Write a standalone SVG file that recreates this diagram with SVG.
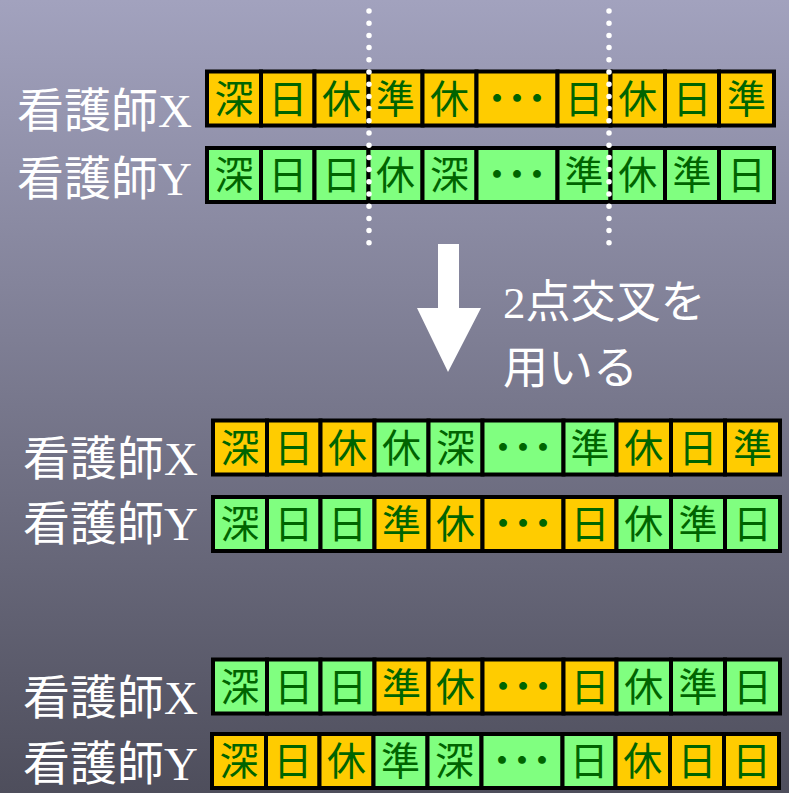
<svg xmlns="http://www.w3.org/2000/svg" width="789" height="793" viewBox="0 0 789 793">
<defs>
<linearGradient id="bg" x1="0" y1="0" x2="0" y2="1">
<stop offset="0" stop-color="#A2A2BE"/>
<stop offset="1" stop-color="#4E4E5C"/>
</linearGradient>
</defs>
<style>
.o{fill:#FFCC00;stroke:#000;stroke-width:4}
.g{fill:#80FF80;stroke:#000;stroke-width:4}
.c{font-family:"Noto Sans CJK JP","Noto Sans",sans-serif;font-size:39px;fill:#006400;text-anchor:middle}
.d{font-family:"Noto Sans CJK JP","Noto Sans",sans-serif;font-size:40px;font-weight:bold;fill:#006400;text-anchor:middle}
.lab{font-family:"Liberation Serif","Noto Sans CJK JP",serif;font-size:47px;fill:#fff}
.note{font-family:"Liberation Serif","Noto Sans CJK JP",serif;font-size:45px;fill:#fff}
.dot{stroke:#fff;stroke-width:5.5;stroke-linecap:round;stroke-dasharray:0 12.2}
</style>
<rect x="0" y="0" width="789" height="793" fill="url(#bg)"/>

<g id="label-top-x"><text class="lab" x="17" y="127">看護師X</text></g>
<g id="label-top-y"><text class="lab" x="17" y="195">看護師Y</text></g>
<g id="label-mid-x"><text class="lab" x="23" y="475">看護師X</text></g>
<g id="label-mid-y"><text class="lab" x="23" y="540">看護師Y</text></g>
<g id="label-bot-x"><text class="lab" x="23" y="714">看護師X</text></g>
<g id="label-bot-y"><text class="lab" x="23" y="780">看護師Y</text></g>

<g id="row-top-x" transform="translate(0,71.5)">
<rect class="o" x="207" y="0" width="54" height="54"/>
<rect class="o" x="261" y="0" width="53.5" height="54"/>
<rect class="o" x="314.5" y="0" width="54" height="54"/>
<rect class="o" x="368.5" y="0" width="54" height="54"/>
<rect class="o" x="422.5" y="0" width="54" height="54"/>
<rect class="o" x="476.5" y="0" width="81" height="54"/>
<rect class="o" x="557.5" y="0" width="53" height="54"/>
<rect class="o" x="610.5" y="0" width="54.5" height="54"/>
<rect class="o" x="665" y="0" width="54" height="54"/>
<rect class="o" x="719" y="0" width="55" height="54"/>
<text class="c" x="234" y="41">深</text><text class="c" x="287.75" y="41">日</text><text class="c" x="341.5" y="41">休</text><text class="c" x="395.5" y="41">準</text><text class="c" x="449.5" y="41">休</text><text class="d" x="517" y="41">･･･</text><text class="c" x="584" y="41">日</text><text class="c" x="637.75" y="41">休</text><text class="c" x="692" y="41">日</text><text class="c" x="746.5" y="41">準</text>
</g>

<g id="row-top-y" transform="translate(0,148)">
<rect class="g" x="207" y="0" width="54" height="54"/>
<rect class="g" x="261" y="0" width="53.5" height="54"/>
<rect class="g" x="314.5" y="0" width="54" height="54"/>
<rect class="g" x="368.5" y="0" width="54" height="54"/>
<rect class="g" x="422.5" y="0" width="54" height="54"/>
<rect class="g" x="476.5" y="0" width="81" height="54"/>
<rect class="g" x="557.5" y="0" width="53" height="54"/>
<rect class="g" x="610.5" y="0" width="54.5" height="54"/>
<rect class="g" x="665" y="0" width="54" height="54"/>
<rect class="g" x="719" y="0" width="55" height="54"/>
<text class="c" x="234" y="41">深</text><text class="c" x="287.75" y="41">日</text><text class="c" x="341.5" y="41">日</text><text class="c" x="395.5" y="41">休</text><text class="c" x="449.5" y="41">深</text><text class="d" x="517" y="41">･･･</text><text class="c" x="584" y="41">準</text><text class="c" x="637.75" y="41">休</text><text class="c" x="692" y="41">準</text><text class="c" x="746.5" y="41">日</text>
</g>

<g id="row-mid-x" transform="translate(6,420.5)">
<rect class="o" x="207" y="0" width="54" height="54"/>
<rect class="o" x="261" y="0" width="53.5" height="54"/>
<rect class="o" x="314.5" y="0" width="54" height="54"/>
<rect class="g" x="368.5" y="0" width="54" height="54"/>
<rect class="g" x="422.5" y="0" width="54" height="54"/>
<rect class="g" x="476.5" y="0" width="81" height="54"/>
<rect class="g" x="557.5" y="0" width="53" height="54"/>
<rect class="o" x="610.5" y="0" width="54.5" height="54"/>
<rect class="o" x="665" y="0" width="54" height="54"/>
<rect class="o" x="719" y="0" width="55" height="54"/>
<text class="c" x="234" y="41">深</text><text class="c" x="287.75" y="41">日</text><text class="c" x="341.5" y="41">休</text><text class="c" x="395.5" y="41">休</text><text class="c" x="449.5" y="41">深</text><text class="d" x="517" y="41">･･･</text><text class="c" x="584" y="41">準</text><text class="c" x="637.75" y="41">休</text><text class="c" x="692" y="41">日</text><text class="c" x="746.5" y="41">準</text>
</g>

<g id="row-mid-y" transform="translate(6,497)">
<rect class="g" x="207" y="0" width="54" height="54"/>
<rect class="g" x="261" y="0" width="53.5" height="54"/>
<rect class="g" x="314.5" y="0" width="54" height="54"/>
<rect class="o" x="368.5" y="0" width="54" height="54"/>
<rect class="o" x="422.5" y="0" width="54" height="54"/>
<rect class="o" x="476.5" y="0" width="81" height="54"/>
<rect class="o" x="557.5" y="0" width="53" height="54"/>
<rect class="g" x="610.5" y="0" width="54.5" height="54"/>
<rect class="g" x="665" y="0" width="54" height="54"/>
<rect class="g" x="719" y="0" width="55" height="54"/>
<text class="c" x="234" y="41">深</text><text class="c" x="287.75" y="41">日</text><text class="c" x="341.5" y="41">日</text><text class="c" x="395.5" y="41">準</text><text class="c" x="449.5" y="41">休</text><text class="d" x="517" y="41">･･･</text><text class="c" x="584" y="41">日</text><text class="c" x="637.75" y="41">休</text><text class="c" x="692" y="41">準</text><text class="c" x="746.5" y="41">日</text>
</g>

<g id="row-bot-x" transform="translate(6,659.5)">
<rect class="g" x="207" y="0" width="54" height="54"/>
<rect class="g" x="261" y="0" width="53.5" height="54"/>
<rect class="g" x="314.5" y="0" width="54" height="54"/>
<rect class="o" x="368.5" y="0" width="54" height="54"/>
<rect class="o" x="422.5" y="0" width="54" height="54"/>
<rect class="o" x="476.5" y="0" width="81" height="54"/>
<rect class="o" x="557.5" y="0" width="53" height="54"/>
<rect class="g" x="610.5" y="0" width="54.5" height="54"/>
<rect class="g" x="665" y="0" width="54" height="54"/>
<rect class="g" x="719" y="0" width="55" height="54"/>
<text class="c" x="234" y="41">深</text><text class="c" x="287.75" y="41">日</text><text class="c" x="341.5" y="41">日</text><text class="c" x="395.5" y="41">準</text><text class="c" x="449.5" y="41">休</text><text class="d" x="517" y="41">･･･</text><text class="c" x="584" y="41">日</text><text class="c" x="637.75" y="41">休</text><text class="c" x="692" y="41">準</text><text class="c" x="746.5" y="41">日</text>
</g>

<g id="row-bot-y" transform="translate(5,734)">
<rect class="o" x="207" y="0" width="54" height="54"/>
<rect class="o" x="261" y="0" width="53.5" height="54"/>
<rect class="o" x="314.5" y="0" width="54" height="54"/>
<rect class="g" x="368.5" y="0" width="54" height="54"/>
<rect class="g" x="422.5" y="0" width="54" height="54"/>
<rect class="g" x="476.5" y="0" width="81" height="54"/>
<rect class="g" x="557.5" y="0" width="53" height="54"/>
<rect class="o" x="610.5" y="0" width="54.5" height="54"/>
<rect class="o" x="665" y="0" width="54" height="54"/>
<rect class="o" x="719" y="0" width="55" height="54"/>
<text class="c" x="234" y="41">深</text><text class="c" x="287.75" y="41">日</text><text class="c" x="341.5" y="41">休</text><text class="c" x="395.5" y="41">準</text><text class="c" x="449.5" y="41">深</text><text class="d" x="517" y="41">･･･</text><text class="c" x="584" y="41">日</text><text class="c" x="637.75" y="41">休</text><text class="c" x="692" y="41">日</text><text class="c" x="746.5" y="41">日</text>
</g>

<g id="connectors">
<line class="dot" x1="369" y1="11" x2="369" y2="243"/>
<line class="dot" x1="609" y1="11" x2="609" y2="243"/>
<polygon points="438,244 459,244 459,308 481,308 448,372 417,308 438,308" fill="#fff"/>
</g>
<g id="arrow-label">
<text class="note" x="503" y="318">2点交叉を</text>
<text class="note" x="503" y="384">用いる</text>
</g>
</svg>
